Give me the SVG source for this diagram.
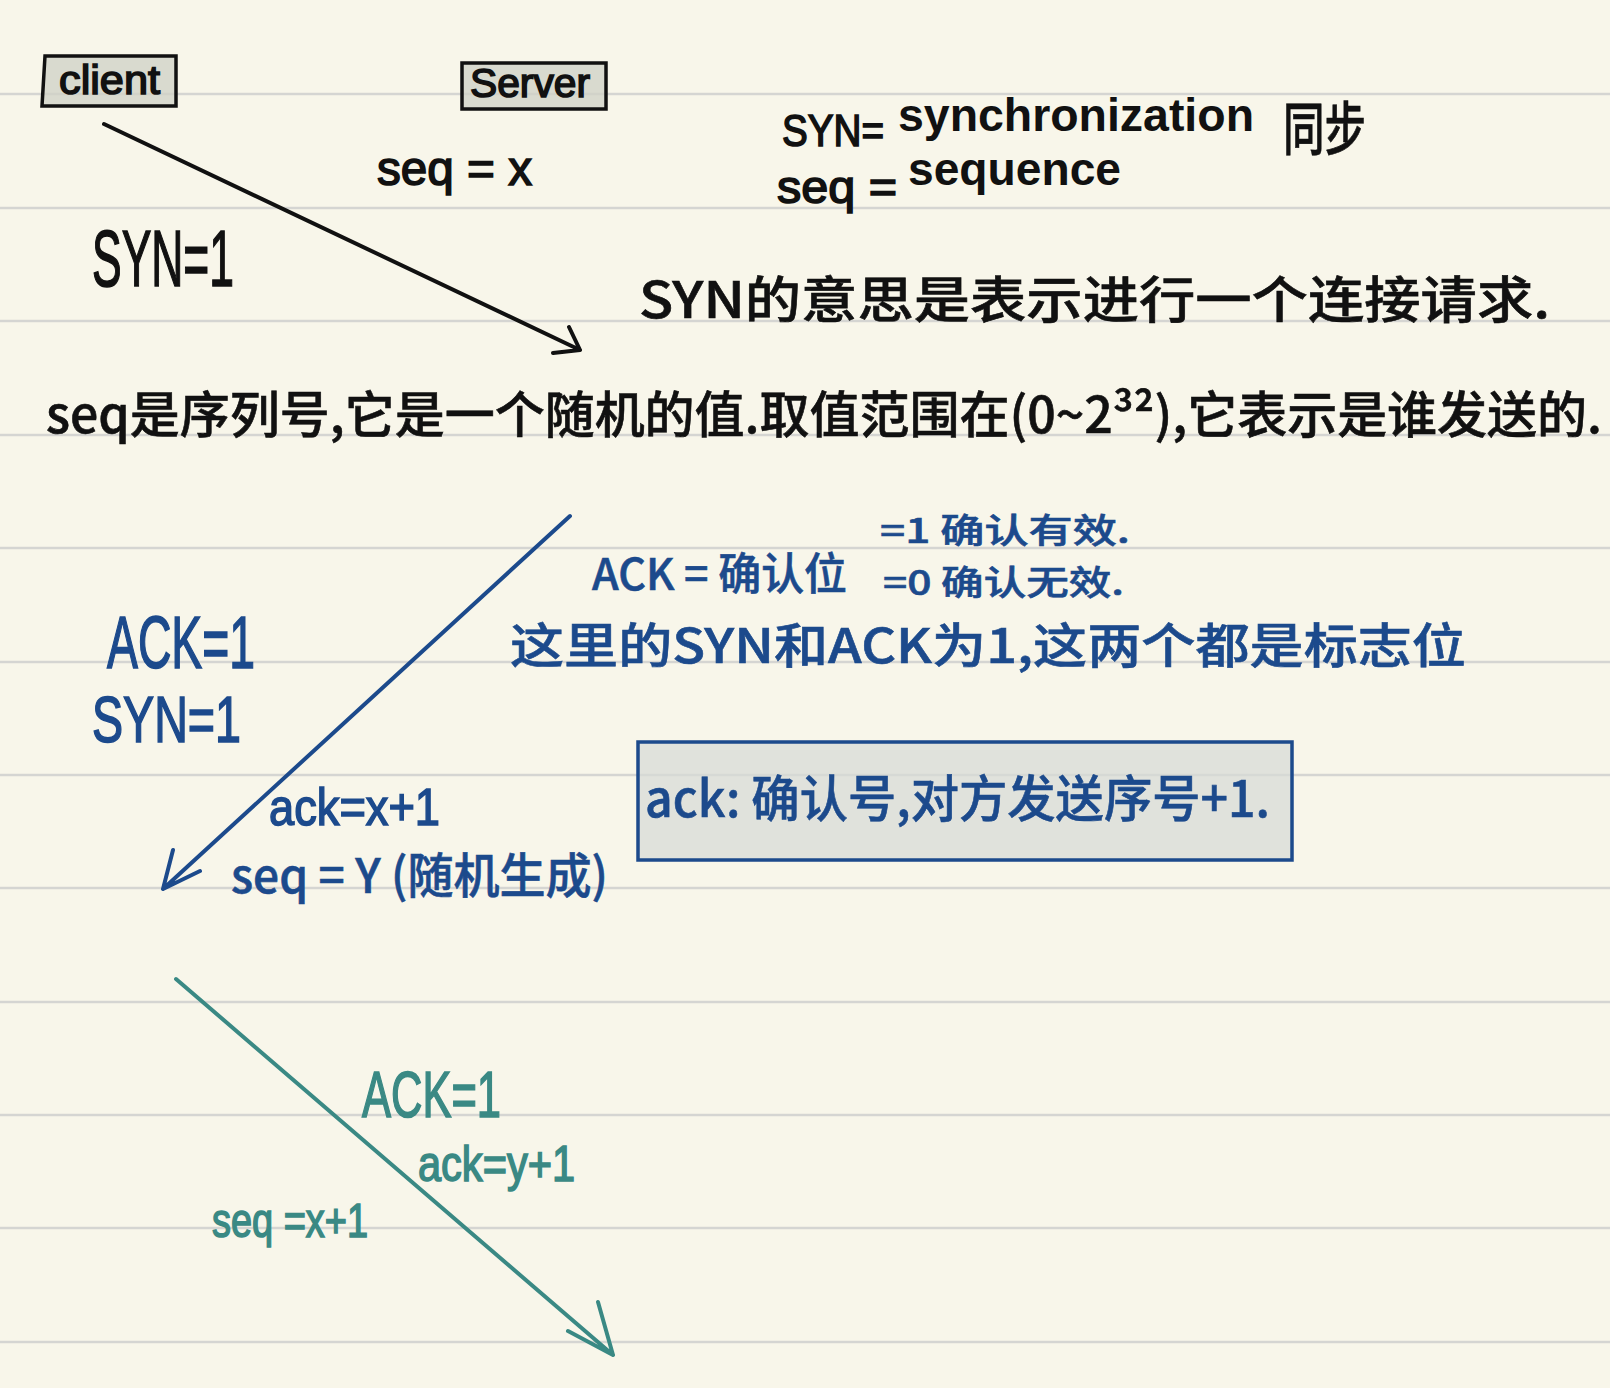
<svg xmlns="http://www.w3.org/2000/svg" width="1610" height="1388" viewBox="0 0 1610 1388">
<style>
.rule{stroke:#d5d5d2;stroke-width:2.5}
.k{fill:#111;stroke:#111}
.b{fill:#1c4a8c;stroke:#1c4a8c}
.t{fill:#3a8984;stroke:#3a8984}
.hw{font-family:"Liberation Sans","Noto Sans CJK SC",sans-serif;stroke-width:1.6}
.cn{font-family:"Noto Sans CJK SC","Noto Sans CJK JP",sans-serif;font-weight:500;stroke-width:0.6}
.bold{font-family:"Liberation Sans",Arial,sans-serif;font-weight:bold;stroke-width:0}
.ln{fill:none;stroke-width:4;stroke-linecap:round;stroke-linejoin:round}
</style>
<rect width="1610" height="1388" fill="#f8f6ea"/>
<g id="rules">
<line class="rule" x1="0" y1="94" x2="1610" y2="94"/>
<line class="rule" x1="0" y1="208" x2="1610" y2="208"/>
<line class="rule" x1="0" y1="321" x2="1610" y2="321"/>
<line class="rule" x1="0" y1="435" x2="1610" y2="435"/>
<line class="rule" x1="0" y1="548" x2="1610" y2="548"/>
<line class="rule" x1="0" y1="662" x2="1610" y2="662"/>
<line class="rule" x1="0" y1="775" x2="1610" y2="775"/>
<line class="rule" x1="0" y1="888" x2="1610" y2="888"/>
<line class="rule" x1="0" y1="1002" x2="1610" y2="1002"/>
<line class="rule" x1="0" y1="1115" x2="1610" y2="1115"/>
<line class="rule" x1="0" y1="1228" x2="1610" y2="1228"/>
<line class="rule" x1="0" y1="1342" x2="1610" y2="1342"/>
</g>
<g id="client">
<path d="M45 56 L176 56 L176 106 L42 106 Z" fill="#cfd0c6" fill-opacity="0.75" stroke="#111" stroke-width="3.5"/>
<text class="hw k" x="59" y="94" font-size="40" textLength="101" lengthAdjust="spacingAndGlyphs">client</text>
</g>
<g id="server">
<rect x="462" y="63" width="144" height="46" fill="#cfd0c6" fill-opacity="0.75" stroke="#111" stroke-width="3.5"/>
<text class="hw k" x="470" y="97" font-size="40" textLength="120" lengthAdjust="spacingAndGlyphs">Server</text>
</g>
<g id="notes-black">
<text class="hw k" x="377" y="185" font-size="48" textLength="155" lengthAdjust="spacingAndGlyphs">seq = x</text>
<text class="hw k" x="92" y="286" font-size="80" textLength="142" lengthAdjust="spacingAndGlyphs">SYN=1</text>
<text class="hw k" x="782" y="146" font-size="44" textLength="102" lengthAdjust="spacingAndGlyphs">SYN=</text>
<text class="bold k" x="898" y="131" font-size="46" textLength="356" lengthAdjust="spacingAndGlyphs">synchronization</text>
<text class="cn k" x="1283" y="150" font-size="58" textLength="83" lengthAdjust="spacingAndGlyphs">同步</text>
<text class="hw k" x="777" y="203" font-size="46" textLength="120" lengthAdjust="spacingAndGlyphs">seq =</text>
<text class="bold k" x="908" y="185" font-size="46" textLength="213" lengthAdjust="spacingAndGlyphs">sequence</text>
<text class="cn k" x="639" y="318" font-size="50" textLength="911" lengthAdjust="spacingAndGlyphs">SYN的意思是表示进行一个连接请求.</text>
<text class="cn k" x="46" y="433" font-size="50" textLength="1556" lengthAdjust="spacingAndGlyphs">seq是序列号,它是一个随机的值.取值范围在(0~2³²),它表示是谁发送的.</text>
</g>
<g id="notes-blue">
<text class="cn b" x="592" y="590" font-size="44" textLength="255" lengthAdjust="spacingAndGlyphs">ACK = 确认位</text>
<text class="cn b" x="880" y="543" font-size="34" textLength="250" lengthAdjust="spacingAndGlyphs">=1 确认有效.</text>
<text class="cn b" x="883" y="595" font-size="34" textLength="241" lengthAdjust="spacingAndGlyphs">=0 确认无效.</text>
<text class="cn b" x="510" y="663" font-size="48" textLength="956" lengthAdjust="spacingAndGlyphs">这里的SYN和ACK为1,这两个都是标志位</text>
<text class="hw b" x="107" y="668" font-size="74" textLength="148" lengthAdjust="spacingAndGlyphs">ACK=1</text>
<text class="hw b" x="92" y="742" font-size="64" textLength="149" lengthAdjust="spacingAndGlyphs">SYN=1</text>
<text class="hw b" x="269" y="825" font-size="52" textLength="171" lengthAdjust="spacingAndGlyphs">ack=x+1</text>
<text class="cn b" x="231" y="893" font-size="48" textLength="377" lengthAdjust="spacingAndGlyphs">seq = Y (随机生成)</text>
</g>
<g id="ack-box">
<rect x="638" y="742" width="654" height="118" fill="#d6dad6" fill-opacity="0.7" stroke="#1c4a8c" stroke-width="3.5"/>
<text class="cn b" x="645" y="817" font-size="50" textLength="625" lengthAdjust="spacingAndGlyphs">ack: 确认号,对方发送序号+1.</text>
</g>
<g id="notes-teal">
<text class="hw t" x="362" y="1117" font-size="64" textLength="139" lengthAdjust="spacingAndGlyphs">ACK=1</text>
<text class="hw t" x="418" y="1181" font-size="50" textLength="157" lengthAdjust="spacingAndGlyphs">ack=y+1</text>
<text class="hw t" x="212" y="1237" font-size="48" textLength="156" lengthAdjust="spacingAndGlyphs">seq =x+1</text>
</g>
<g id="connectors">
<path class="ln" stroke="#111" d="M104 124 L580 350 M569 327 L580 350 L553 353"/>
<path class="ln" stroke="#1c4a8c" d="M570 516 L163 889 M173 850 L163 889 L200 871"/>
<path class="ln" stroke="#3a8984" d="M176 979 L613 1355 M598 1302 L613 1355 L568 1331"/>
</g>
</svg>
